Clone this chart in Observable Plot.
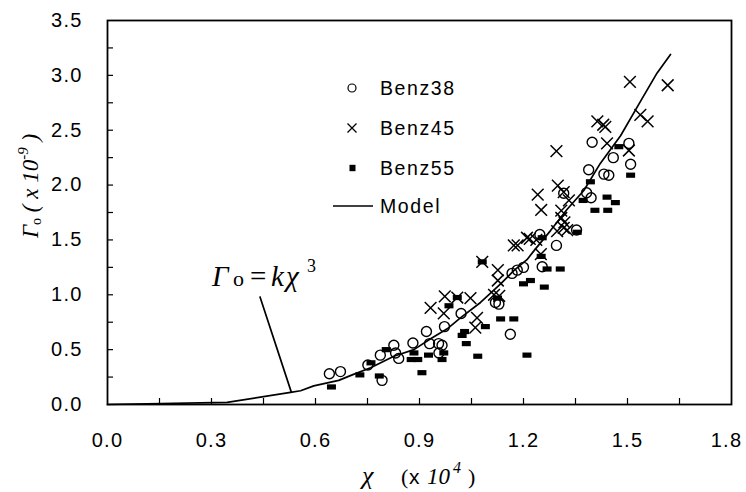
<!DOCTYPE html>
<html><head><meta charset="utf-8">
<script src="https://cdn.jsdelivr.net/npm/d3@7"></script>
<script src="https://cdn.jsdelivr.net/npm/@observablehq/plot@0.6"></script>
<style>
body{margin:0;background:#fff;}
#chart{position:relative;width:746px;height:492px;}
</style></head><body><div id="chart"></div>
<script>
// ---- data ----
const benz38X = [0.64,0.672,0.751,0.787,0.792,0.826,0.831,0.840,0.881,0.92,0.929,0.955,0.965,0.956,0.972,1.02,1.119,1.129,1.162,1.167,1.182,1.20,1.254,1.247,1.295,1.316,1.353,1.382,1.395,1.388,1.398,1.432,1.446,1.459,1.504,1.509];
const benz38Y = [0.28,0.30,0.36,0.45,0.22,0.54,0.47,0.42,0.56,0.665,0.555,0.555,0.54,0.47,0.71,0.83,0.93,0.915,0.64,1.195,1.225,1.25,1.256,1.55,1.45,1.925,1.59,1.93,1.885,2.14,2.39,2.10,2.09,2.25,2.38,2.19];

const benz45X = [0.932,0.973,0.97,1.009,1.047,1.066,1.061,1.081,1.115,1.13,1.126,1.126,1.172,1.183,1.21,1.218,1.237,1.25,1.241,1.251,1.299,1.316,1.331,1.309,1.309,1.318,1.297,1.316,1.326,1.295,1.413,1.43,1.436,1.441,1.504,1.507,1.537,1.558,1.616];
const benz45Y = [0.88,0.985,0.83,0.975,0.97,0.79,0.70,1.30,1.0,0.99,1.225,1.13,1.45,1.45,1.52,1.51,1.50,1.37,1.913,1.773,1.995,1.935,1.86,1.767,1.70,1.66,1.58,1.61,1.59,2.31,2.58,2.55,2.53,2.38,2.315,2.94,2.64,2.58,2.91];

const benz55X = [0.646,0.728,0.76,0.784,0.804,0.876,0.884,0.895,0.907,0.926,0.965,0.97,0.985,1.009,1.023,1.03,1.035,1.068,1.081,1.09,1.125,1.134,1.172,1.21,1.20,1.22,1.26,1.268,1.306,1.251,1.254,1.355,1.372,1.393,1.406,1.443,1.441,1.465,1.475,1.509];
const benz55Y = [0.16,0.27,0.38,0.26,0.50,0.41,0.47,0.41,0.29,0.45,0.41,0.47,0.90,0.975,0.63,0.665,0.555,0.44,1.30,0.71,0.97,0.78,0.78,0.45,1.10,1.13,1.07,1.235,1.235,1.35,1.52,1.57,1.86,2.03,1.77,1.77,1.89,1.84,2.35,2.09];

const modelX = [0,0.345,0.528,0.557,0.595,0.667,0.706,0.759,0.826,0.884,0.932,0.98,1.018,1.076,1.134,1.172,1.21,1.23,1.278,1.326,1.374,1.422,1.48,1.537,1.585,1.624];
const modelY = [0,0.02,0.11,0.125,0.17,0.22,0.27,0.335,0.44,0.50,0.60,0.69,0.79,0.93,1.10,1.22,1.32,1.40,1.585,1.78,1.95,2.20,2.45,2.76,3.02,3.19];

const seriesNames = ["Benz38","Benz45","Benz55","Model"];
const xTickLabels = [0,0.3,0.6,0.9,1.2,1.5,1.8];
const xTickMinor = [0.15,0.3,0.45,0.6,0.75,0.9,1.05,1.2,1.35,1.5,1.65];
const yTickLabels = [0,0.5,1.0,1.5,2.0,2.5,3.0,3.5];
const yTickMinor = [0.25,0.5,0.75,1.0,1.25,1.5,1.75,2.0,2.25,2.5,2.75,3.0,3.25];
// annotation: pointer from label to the model curve, and label anchor
const pointerX = [0.44,0.53];
const pointerY = [0.98,0.115];
const annotX = [0.303];
const annotY = [1.08];

// ---- build ----
const pts = (xs, ys) => xs.map((x, i) => ({x, y: ys[i]}));
const dash = {draw(ctx){ ctx.rect(-4.5, -2.6, 9, 5.2); }};
const W = 746, H = 492, mL = 107, mR = 15, mT = 20, mB = 88;
const sans = '"Liberation Sans", Arial, sans-serif';
const serif = '"Liberation Serif", "Times New Roman", serif';
const fmt = d3.format(".1f");

const chart = Plot.plot({
  width: W, height: H,
  marginLeft: mL, marginRight: mR, marginTop: mT, marginBottom: mB,
  x: {domain: [0, 1.8]},
  y: {domain: [0, 3.5]},
  style: {fontFamily: sans, fontSize: "20px", color: "black", background: "white"},
  marks: [
    Plot.ruleX(xTickMinor, {insetTop: H - mT - mB - 6, stroke: "black", strokeWidth: 1.2}),
    Plot.ruleY(yTickMinor, {insetRight: W - mL - mR - 6, stroke: "black", strokeWidth: 1.2}),
    Plot.line(pts(modelX, modelY), {x: "x", y: "y", stroke: "black", strokeWidth: 1.7}),
    Plot.line(pts(pointerX, pointerY), {x: "x", y: "y", stroke: "black", strokeWidth: 1.7}),
    Plot.dot(pts(benz38X, benz38Y), {x: "x", y: "y", r: 5, stroke: "black", strokeWidth: 1.4, fill: "none"}),
    Plot.dot(pts(benz45X, benz45Y), {x: "x", y: "y", symbol: "times", r: 5.4, stroke: "black", strokeWidth: 1.5}),
    Plot.dot(pts(benz55X, benz55Y), {x: "x", y: "y", symbol: dash, fill: "black", stroke: "none"}),
    Plot.axisX(xTickLabels, {tickSize: 0, tickPadding: 28, fontSize: 20, tickFormat: fmt, label: null}),
    Plot.axisY(yTickLabels, {tickSize: 0, tickPadding: 25, fontSize: 20, tickFormat: fmt, label: null}),
    Plot.frame({stroke: "black", strokeWidth: 1.8})
  ]
});
document.getElementById("chart").appendChild(chart);

const svg = d3.select(chart);
const sx = chart.scale("x"), sy = chart.scale("y");
// tick labels: slightly wider tracking as in the reference, pull last x label in from the edge
svg.selectAll("text").filter(function(){ return /^\d\.\d$/.test(this.textContent); })
  .attr("letter-spacing", "1.2px")
  .filter(function(){ return this.textContent === "1.8"; })
  .attr("dx", -5);

// y-axis title
const yt = svg.append("text").attr("transform", "translate(38,186) rotate(-90)")
  .attr("text-anchor", "middle").attr("font-family", serif).attr("font-size", 23).attr("font-style", "italic").attr("fill", "black");
yt.append("tspan").text("Γ");
yt.append("tspan").attr("font-style", "normal").attr("font-size", 14).attr("dy", 3).text("o");
yt.append("tspan").attr("dy", -3).text(" ( x 10");
yt.append("tspan").attr("font-size", 15).attr("dy", -10).text("-9");
yt.append("tspan").attr("dy", 10).text(" )");

// x-axis title
const xt = svg.append("text").attr("y", 484).attr("fill", "black").attr("text-anchor", "start");
xt.append("tspan").attr("x", 362).attr("font-family", serif).attr("font-style", "italic").attr("font-size", 26).text("χ");
xt.append("tspan").attr("x", 401).attr("font-family", serif).attr("font-size", 22).text("(");
xt.append("tspan").attr("x", 409).attr("font-family", sans).attr("font-size", 21).text("x");
xt.append("tspan").attr("x", 427).attr("font-family", serif).attr("font-style", "italic").attr("font-size", 23).text("10");
xt.append("tspan").attr("x", 453).attr("font-family", serif).attr("font-style", "italic").attr("font-size", 16).attr("dy", -11).text("4");
xt.append("tspan").attr("x", 468).attr("font-family", serif).attr("font-size", 22).attr("dy", 11).text(")");

// annotation label
const ax0 = sx.apply(annotX[0]), ay0 = sy.apply(annotY[0]);
const at = svg.append("text").attr("y", ay0)
  .attr("text-anchor", "start").attr("font-family", serif).attr("font-size", 29).attr("fill", "black");
at.append("tspan").attr("x", ax0).attr("font-style", "italic").text("Γ");
at.append("tspan").attr("x", ax0 + 21).attr("font-size", 22).text("o");
at.append("tspan").attr("x", ax0 + 38).text("=");
at.append("tspan").attr("x", ax0 + 59).attr("font-style", "italic").text("k");
at.append("tspan").attr("x", ax0 + 74).attr("font-style", "italic").text("χ");
at.append("tspan").attr("x", ax0 + 95).attr("font-size", 18).attr("dy", -14).text("3");

// legend
const lg = svg.append("g");
const lx = 352, lt = 380, ly = [88, 128, 168, 206];
lg.append("circle").attr("cx", lx).attr("cy", ly[0]).attr("r", 4).attr("fill", "none").attr("stroke", "black").attr("stroke-width", 1.2);
lg.append("path").attr("d", "M-4.5,-4.5L4.5,4.5M-4.5,4.5L4.5,-4.5").attr("transform", `translate(${lx},${ly[1]})`).attr("stroke", "black").attr("stroke-width", 1.3);
lg.append("rect").attr("x", lx - 2.5).attr("y", ly[2] - 3.2).attr("width", 6).attr("height", 6.4).attr("fill", "black");
lg.append("line").attr("x1", 333).attr("x2", 373).attr("y1", ly[3]).attr("y2", ly[3]).attr("stroke", "black").attr("stroke-width", 1.4);
seriesNames.forEach((name, i) => {
  lg.append("text").attr("x", lt).attr("y", ly[i]).attr("dy", "0.36em").attr("text-anchor", "start").attr("font-family", sans)
    .attr("font-size", 19.5).attr("letter-spacing", "1.6px").attr("fill", "black").text(name);
});
</script></body></html>
